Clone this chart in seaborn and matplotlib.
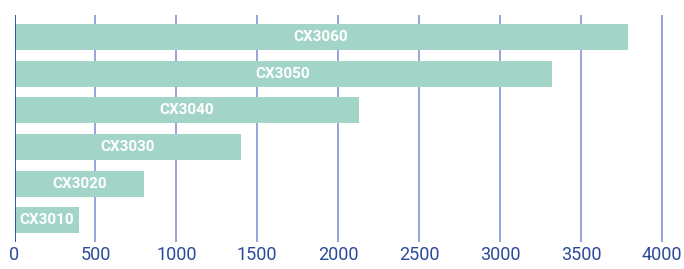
import pandas as pd
import matplotlib.pyplot as plt
import seaborn as sns

models = ['CX3060', 'CX3050', 'CX3040', 'CX3030', 'CX3020', 'CX3010']
values = [3790, 3320, 2130, 1400, 800, 400]
xticks = [0, 500, 1000, 1500, 2000, 2500, 3000, 3500, 4000]

df = pd.DataFrame({'model': models, 'value': values})

sns.set_style('white')
plt.rcParams['font.family'] = ['Liberation Sans Narrow', 'Roboto', 'DejaVu Sans']

fig = plt.figure(figsize=(6.84, 2.69), dpi=100)
ax = fig.add_axes([0.0212, 0.100, 0.970, 0.844])

# gridlines, the zero line sits on top of the bars
for t in xticks:
    if t == 0:
        ax.axvline(t, color='#3550b0', lw=1.4, zorder=4)
    else:
        ax.axvline(t, color='#7c8ccc', lw=1.1, zorder=0)

sns.barplot(data=df, x='value', y='model', orient='h', color='#a2d5c8',
            saturation=1, width=0.71, linewidth=0, edgecolor='none', ax=ax, zorder=2)

# labels centred inside bars
for i, (m, v) in enumerate(zip(models, values)):
    ax.text(v / 2, i, m, color='white', fontsize=11, fontweight='bold',
            ha='center', va='center', zorder=3)

ax.set_xlim(0, 4100)
ax.set_ylim(5.6, -0.6)
ax.set_xticks(xticks)
ax.set_xticklabels([str(t) for t in xticks], color='#2b4a9a', fontsize=13)
ax.tick_params(axis='x', length=0, pad=3)
ax.set_yticks([])
ax.set_xlabel('')
ax.set_ylabel('')
for s in ax.spines.values():
    s.set_visible(False)

fig.savefig('out.png', dpi=100)
